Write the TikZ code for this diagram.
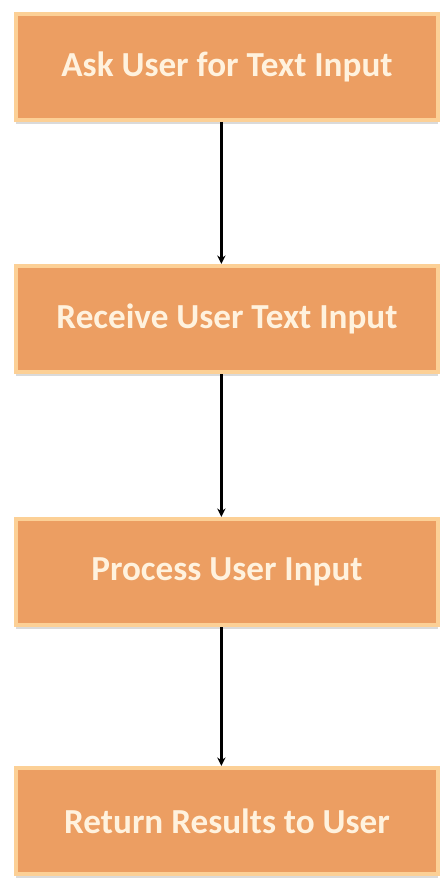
\documentclass[tikz,border=0pt]{standalone}
\usepackage{fontspec}
\setmainfont{Carlito}
\usetikzlibrary{arrows.meta, shadows}

\definecolor{boxfill}{RGB}{236,158,98}
\definecolor{boxedge}{RGB}{252,208,150}
\definecolor{boxtext}{RGB}{255,242,222}

\begin{document}
\begin{tikzpicture}[x=0.025cm, y=-0.025cm,
  stepbox/.style={rectangle, fill=boxfill, draw=boxedge, line width=3pt,
    minimum width=10.55cm, minimum height=2.65cm, inner sep=0pt,
    text=boxtext, font=\fontsize{25}{28}\selectfont\bfseries,
    drop shadow={shadow xshift=0pt, shadow yshift=-3pt, fill=black!18, opacity=.8}},
  flow/.style={line width=2pt, -{Stealth[length=6pt, width=6pt]}}]

\useasboundingbox (0,0) rectangle (442,881);

% steps
\node[stepbox] (ask) at (227,67) {Ask User for Text Input};
\node[stepbox] (receive) at (227,319) {Receive User Text Input};
\node[stepbox] (process) at (227,572) {Process User Input};
\node[stepbox] (return) at (227,821) {Return Results to User};

% arrows
\draw[flow] ([xshift=-4pt]ask.south) -- ([xshift=-4pt]receive.north);
\draw[flow] ([xshift=-4pt]receive.south) -- ([xshift=-4pt]process.north);
\draw[flow] ([xshift=-4pt]process.south) -- ([xshift=-4pt]return.north);

\end{tikzpicture}
\end{document}
